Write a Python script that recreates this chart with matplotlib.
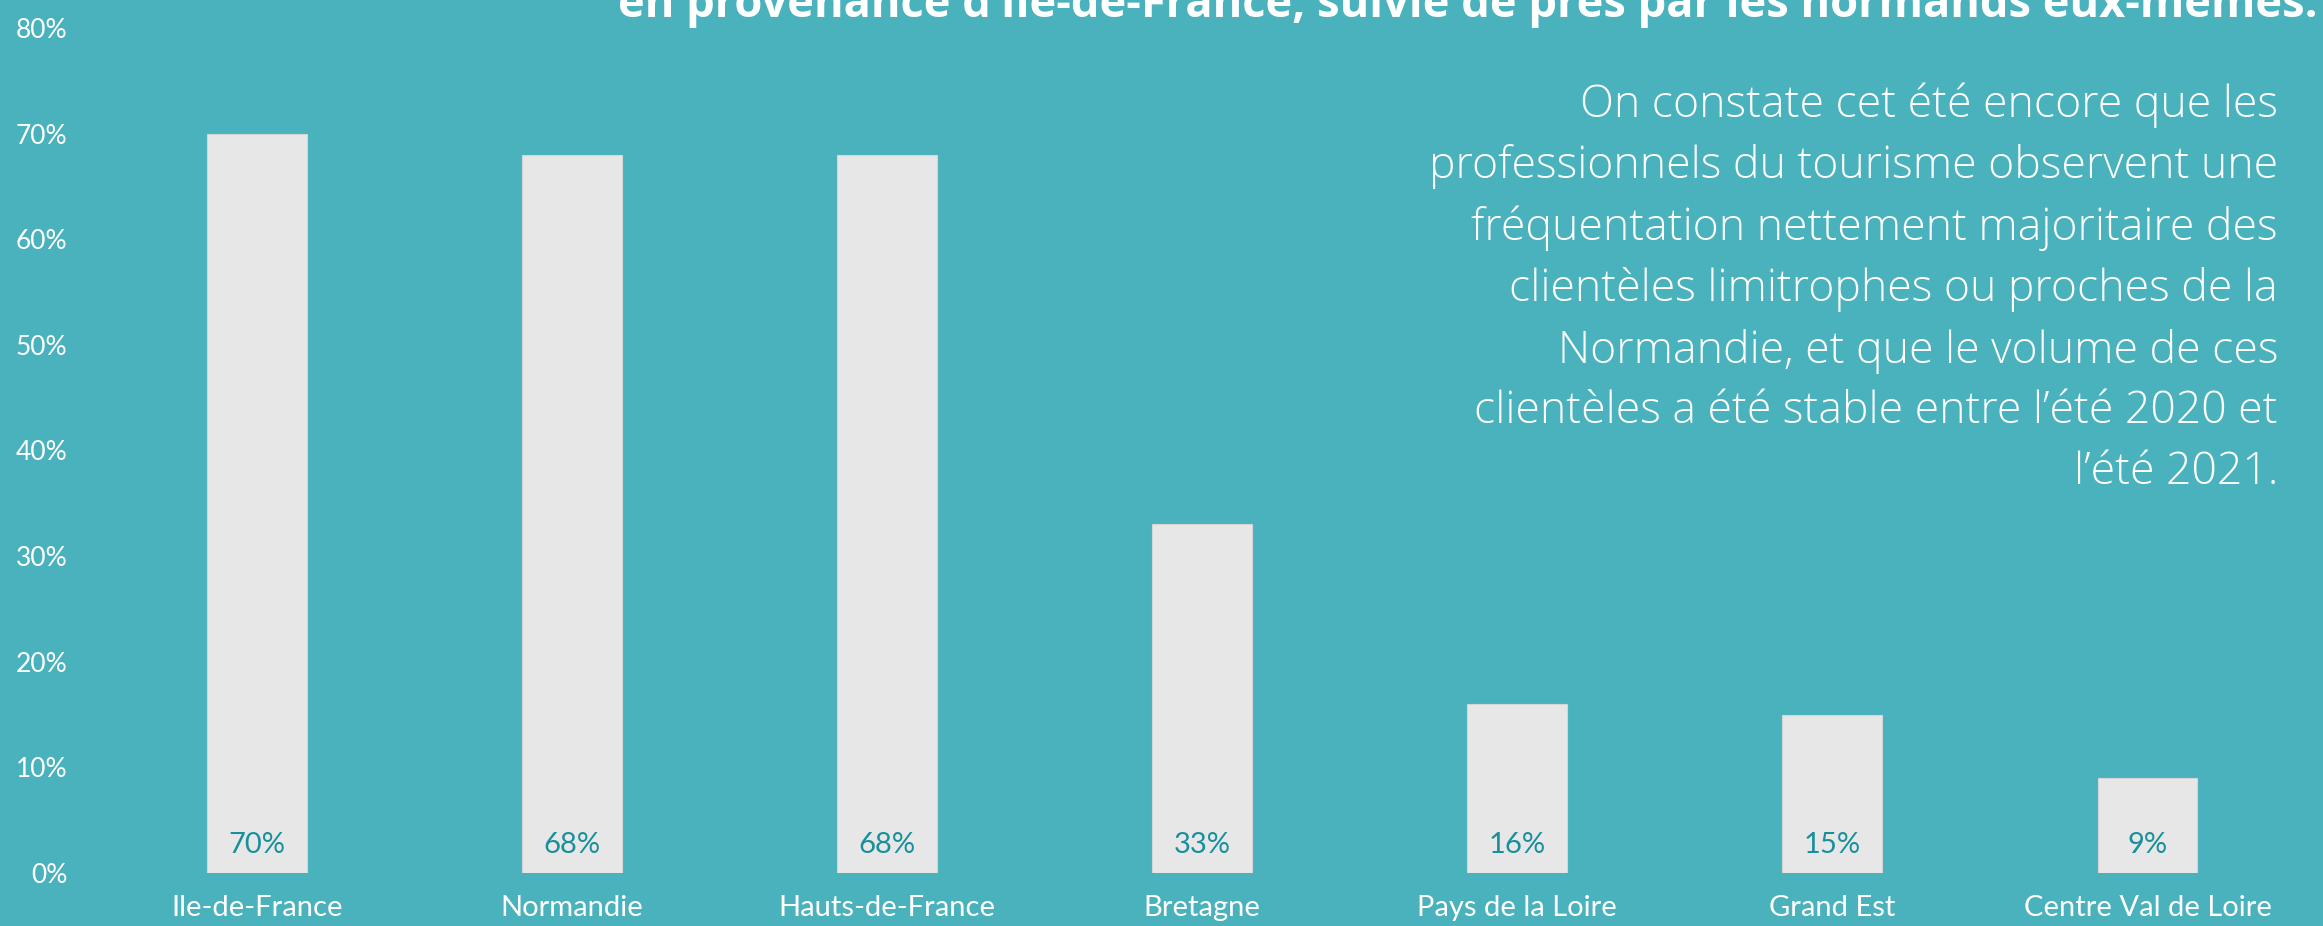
import matplotlib.pyplot as plt
from matplotlib.ticker import PercentFormatter

# data
regions = ["Ile-de-France", "Normandie", "Hauts-de-France", "Bretagne",
           "Pays de la Loire", "Grand Est", "Centre Val de Loire"]
shares = [70, 68, 68, 33, 16, 15, 9]
y_ticks = [0, 10, 20, 30, 40, 50, 60, 70, 80]

title = "en provenance d\u2019Ile-de-France, suivie de près par les normands eux-mêmes."
comment = ("On constate cet été encore que les\n"
           "professionnels du tourisme observent une\n"
           "fréquentation nettement majoritaire des\n"
           "clientèles limitrophes ou proches de la\n"
           "Normandie, et que le volume de ces\n"
           "clientèles a été stable entre l\u2019été 2020 et\n"
           "l\u2019été 2021.")

BG = "#4AB2BD"
BAR = "#E7E7E7"
LABEL = "#17909B"

W, H = 2323, 926
fig = plt.figure(figsize=(W / 100, H / 100), dpi=100, facecolor=BG)
ax = fig.add_axes([99.5 / W, 53 / H, 2205.5 / W, 845 / H])
ax.set_facecolor(BG)

x = range(len(regions))
ax.bar(x, shares, width=0.317, color=BAR, edgecolor="#D5D5D5", linewidth=0.8)

for i, v in zip(x, shares):
    ax.annotate(f"{v}%", (i, 0), xytext=(0, 20), textcoords="offset points",
                ha="center", va="center", color=LABEL, fontsize=21,
                family="Lato")

ax.set_xlim(-0.5, len(regions) - 0.5)
ax.set_ylim(0, 80)
ax.set_yticks(y_ticks)
ax.yaxis.set_major_formatter(PercentFormatter(decimals=0))
ax.set_xticks(list(x))
ax.set_xticklabels(regions)
ax.tick_params(axis="x", length=0, pad=16, labelsize=21, labelcolor="white")
ax.tick_params(axis="y", length=0, pad=23, labelsize=19, labelcolor="white")
for lab in ax.get_xticklabels() + ax.get_yticklabels():
    lab.set_family("Lato")
for s in ax.spines.values():
    s.set_visible(False)

# heading runs off the top edge, as in the original
fig.text(2318 / W, 1 - 17 / H, title, ha="right", va="baseline",
         color="white", fontsize=32.6, fontweight="bold", family="Open Sans")

fig.text(2278 / W, 1 - 82 / H, comment, ha="right", va="top",
         multialignment="right", color="white", fontsize=32,
         family="Open Sans", fontweight="light", linespacing=1.48)

fig.savefig("out.png", dpi=100, facecolor=BG)
